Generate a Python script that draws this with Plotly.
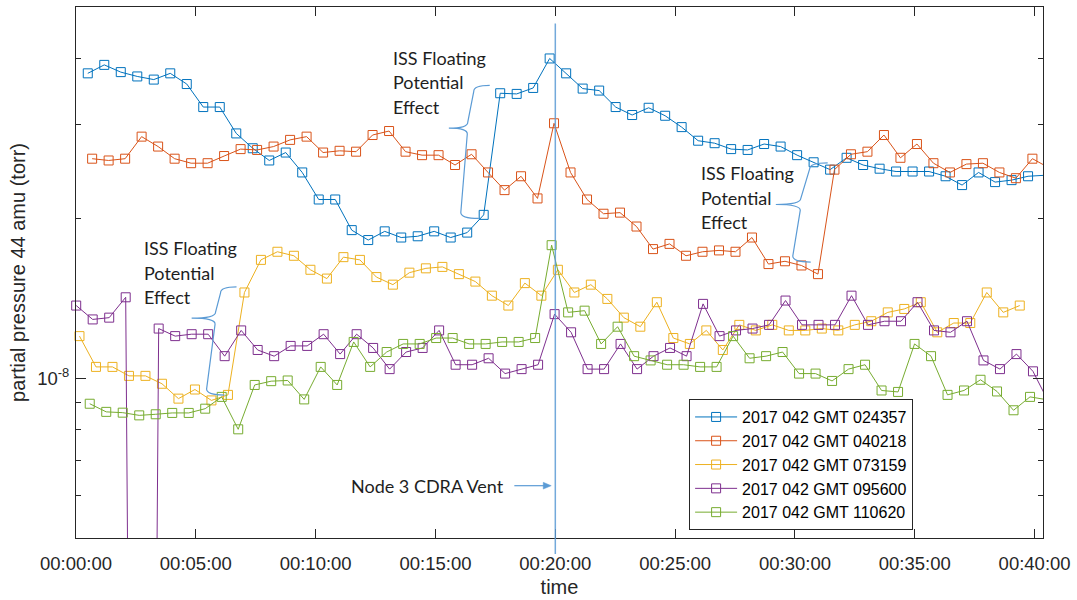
import plotly.graph_objects as go

# ---------------------------------------------------------------
# Partial pressure at 44 amu, five passes on 2017 day 042.
# Values are in units of 1e-8 torr; each pass is sampled every 41.3 s.
# ---------------------------------------------------------------
SCALE = 1e-8
SAMPLE_INTERVAL_S = 41.3

series_names = [
    "2017 042 GMT 024357",
    "2017 042 GMT 040218",
    "2017 042 GMT 073159",
    "2017 042 GMT 095600",
    "2017 042 GMT 110620",
]
series_colors = ["#0072BD", "#D95319", "#EDB120", "#7E2F8E", "#77AC30"]

# first sample of each pass, seconds after the aligned start
start_s = [29.5, 40.4, 8.7, 0.5, 34.4]

pp_024357 = [3.75, 3.89, 3.77, 3.70, 3.65, 3.75, 3.58, 3.24, 3.24, 2.89,
             2.71, 2.57, 2.66, 2.44, 2.17, 2.17, 1.90, 1.82, 1.89, 1.84,
             1.85, 1.89, 1.84, 1.88, 2.03, 3.44, 3.43, 3.52, 4.00, 3.75,
             3.51, 3.48, 3.24, 3.13, 3.23, 3.12, 2.97, 2.80, 2.77, 2.70,
             2.69, 2.76, 2.73, 2.63, 2.55, 2.47, 2.60, 2.52, 2.48, 2.45,
             2.45, 2.45, 2.40, 2.31, 2.44, 2.34, 2.36, 2.40, 2.41]
pp_040218 = [2.59, 2.57, 2.59, 2.85, 2.73, 2.59, 2.54, 2.54, 2.62, 2.70,
             2.69, 2.73, 2.81, 2.85, 2.66, 2.68, 2.67, 2.87, 2.92, 2.67,
             2.63, 2.63, 2.52, 2.64, 2.44, 2.26, 2.40, 2.18, 3.02, 2.44,
             2.17, 2.04, 2.05, 1.93, 1.75, 1.79, 1.70, 1.73, 1.74, 1.73,
             1.84, 1.64, 1.66, 1.63, 1.57, 2.47, 2.64, 2.67, 2.87, 2.60,
             2.76, 2.54, 2.44, 2.53, 2.54, 2.44, 2.38, 2.59, 2.49]
pp_073159 = [1.20, 1.05, 1.05, 1.01, 1.01, 0.976, 0.915, 0.952, 0.908, 0.930,
             1.45, 1.67, 1.73, 1.70, 1.60, 1.54, 1.69, 1.67, 1.55, 1.50,
             1.58, 1.61, 1.62, 1.57, 1.52, 1.43, 1.37, 1.51, 1.43, 1.60,
             1.45, 1.50, 1.41, 1.30, 1.25, 1.39, 1.19, 1.16, 1.23, 1.13,
             1.26, 1.23, 1.26, 1.23, 1.23, 1.24, 1.23, 1.26, 1.28, 1.33,
             1.35, 1.39, 1.22, 1.27, 1.27, 1.45, 1.33, 1.37]
pp_095600 = [1.37, 1.29, 1.30, 1.42, 0.0001, 1.24, 1.20, 1.21, 1.21, 1.10,
             1.23, 1.13, 1.10, 1.15, 1.15, 1.21, 1.11, 1.21, 1.14, 1.04,
             1.12, 1.14, 1.23, 1.06, 1.06, 1.09, 1.02, 1.04, 1.06, 1.32,
             1.22, 1.04, 1.04, 1.16, 1.04, 1.10, 1.14, 1.10, 1.38, 1.20,
             1.23, 1.24, 1.26, 1.40, 1.26, 1.26, 1.26, 1.43, 1.26, 1.28,
             1.28, 1.39, 1.23, 1.22, 1.28, 1.08, 1.04, 1.11, 1.03, 0.895]
pp_110620 = [0.895, 0.864, 0.861, 0.851, 0.855, 0.860, 0.860, 0.876, 0.922, 0.801,
             0.971, 0.987, 0.990, 0.912, 1.05, 0.971, 1.17, 1.05, 1.12, 1.16,
             1.16, 1.19, 1.19, 1.16, 1.16, 1.17, 1.17, 1.19, 1.78, 1.33,
             1.34, 1.16, 1.25, 1.10, 1.08, 1.06, 1.06, 1.05, 1.05, 1.20,
             1.09, 1.10, 1.12, 1.02, 1.02, 0.988, 1.04, 1.06, 0.948, 0.942,
             1.16, 1.10, 0.930, 0.948, 0.993, 0.944, 0.870, 0.922, 0.911]

series_values = [pp_024357, pp_040218, pp_073159, pp_095600, pp_110620]

tick_minutes = [0, 5, 10, 15, 20, 25, 30, 35, 40]
tick_labels = ["00:00:00", "00:05:00", "00:10:00", "00:15:00", "00:20:00",
               "00:25:00", "00:30:00", "00:35:00", "00:40:00"]
vent_minute = 20

X_RANGE = [0, 40.35]
Y_RANGE = [-8.30103, -7.30103]          # log10 of 5e-9 .. 5e-8 torr

AXIS_COLOR = "#262626"
NOTE_COLOR = "#5B9BD5"
TEXT_COLOR = "#1e1e1e"
W, H = 1077, 600
M_L, M_R, M_T, M_B = 76, 31, 6, 59
PW, PH = W - M_L - M_R, H - M_T - M_B


def fx(px):
    """page pixel column -> paper x"""
    return (px - M_L) / PW


def fy(py):
    """page pixel row -> paper y"""
    return (H - M_B - py) / PH


fig = go.Figure()

for name, color, t0, vals in zip(series_names, series_colors, start_s, series_values):
    minutes = [(t0 + i * SAMPLE_INTERVAL_S) / 60 for i in range(len(vals))]
    fig.add_trace(go.Scatter(
        x=minutes,
        y=[v * SCALE for v in vals],
        name=name,
        mode="lines+markers",
        line=dict(color=color, width=1),
        marker=dict(symbol="square-open", size=9, color=color, line=dict(width=1, color=color)),
        cliponaxis=False,
    ))


def brace(top_end, top_spine, tip, mid_spine, bot_spine, bot_end, r=6):
    (tx, ty), (px, py), (bx, by) = top_end, tip, bot_end
    pts = [
        f"M {fx(tx)},{fy(ty)}",
        f"Q {fx(top_spine)},{fy(ty)} {fx(top_spine)},{fy(ty + r)}",
        f"L {fx(mid_spine)},{fy(py - r)}",
        f"Q {fx(mid_spine)},{fy(py)} {fx(px)},{fy(py)}",
        f"Q {fx(mid_spine)},{fy(py)} {fx(mid_spine - 0.5)},{fy(py + r)}",
        f"L {fx(bot_spine)},{fy(by - r)}",
        f"Q {fx(bot_spine)},{fy(by)} {fx(bx)},{fy(by)}",
    ]
    return dict(type="path", xref="paper", yref="paper", path=" ".join(pts),
                line=dict(color=NOTE_COLOR, width=1.2), layer="above")


# "Node 3 CDRA Vent" pointer: shaft plus a filled head ending on the vent line
arrow_row, arrow_tail, arrow_tip = 488.3, 515.7, 552.7
arrow_head = (
    f"M {fx(arrow_tip)},{fy(arrow_row)} "
    f"L {fx(arrow_tip - 8)},{fy(arrow_row - 3.4)} "
    f"L {fx(arrow_tip - 8)},{fy(arrow_row + 3.4)} Z"
)

shapes = [
    # vent marker line
    dict(type="line", xref="x", yref="paper", x0=vent_minute, x1=vent_minute,
         y0=fy(557), y1=fy(22.7), line=dict(color=NOTE_COLOR, width=1.5), opacity=0.85),
    brace((491, 85), 475, (450, 128), 469, 462, (480, 219)),
    brace((830, 163), 812, (778, 205), 803, 795, (813, 263)),
    brace((237, 288), 221, (192, 319.5), 216, 207, (225, 397)),
    dict(type="line", xref="paper", yref="paper", x0=fx(arrow_tail), x1=fx(arrow_tip - 6),
         y0=fy(arrow_row), y1=fy(arrow_row), line=dict(color=NOTE_COLOR, width=1.2)),
    dict(type="path", xref="paper", yref="paper", path=arrow_head,
         fillcolor=NOTE_COLOR, line=dict(color=NOTE_COLOR, width=0.5)),
]

note_font = dict(family="Lato", size=18, color=TEXT_COLOR)
annotations = []
for left, rows in [(392, (57, 82, 107)), (701, (173.3, 198.3, 223)), (142, (249.3, 274.3, 298.5))]:
    for text, row in zip(["ISS Floating", "Potential", "Effect"], rows):
        annotations.append(dict(xref="paper", yref="paper", x=fx(left), y=fy(row),
                                xanchor="left", yanchor="middle", text=text,
                                showarrow=False, font=note_font))

annotations.append(dict(xref="paper", yref="paper", x=fx(350), y=fy(488.3),
                        xanchor="left", yanchor="middle", text="Node 3 CDRA Vent",
                        showarrow=False, font=note_font))

tick_font = dict(family="Liberation Sans", size=18.5, color=AXIS_COLOR)
title_font = dict(family="Liberation Sans", size=20, color=AXIS_COLOR)

fig.update_layout(
    width=W, height=H,
    margin=dict(l=M_L, r=M_R, t=M_T, b=M_B),
    paper_bgcolor="white", plot_bgcolor="white",
    shapes=shapes, annotations=annotations,
    showlegend=True,
    legend=dict(x=fx(691), y=fy(401), xanchor="left", yanchor="top",
                bgcolor="white", bordercolor=AXIS_COLOR, borderwidth=1,
                font=dict(family="Liberation Sans", size=16, color="#000000"),
                itemwidth=42, tracegroupgap=0),
    xaxis=dict(
        range=X_RANGE, tickmode="array", tickvals=tick_minutes, ticktext=tick_labels,
        ticks="inside", ticklen=9, tickcolor=AXIS_COLOR, tickwidth=1,
        showline=True, linecolor=AXIS_COLOR, linewidth=1, mirror="ticks",
        showgrid=False, zeroline=False, tickfont=tick_font, ticklabelstandoff=9,
        title=dict(text="time", font=title_font, standoff=6),
    ),
    yaxis=dict(
        type="log", range=Y_RANGE, tickmode="array", tickvals=[1e-8],
        ticktext=["10<sup>-8</sup>"],
        ticks="inside", ticklen=10, tickcolor=AXIS_COLOR, tickwidth=1,
        minor=dict(tickmode="array", tickvals=[6e-9, 7e-9, 8e-9, 9e-9, 2e-8, 3e-8, 4e-8],
                   ticks="inside", ticklen=5, tickcolor=AXIS_COLOR, showgrid=False),
        showline=True, linecolor=AXIS_COLOR, linewidth=1, mirror="ticks",
        showgrid=False, zeroline=False, tickfont=tick_font, ticklabelstandoff=2,
        title=dict(text="partial pressure 44 amu (torr)", font=title_font, standoff=6),
    ),
)

fig.write_html("out.html")
